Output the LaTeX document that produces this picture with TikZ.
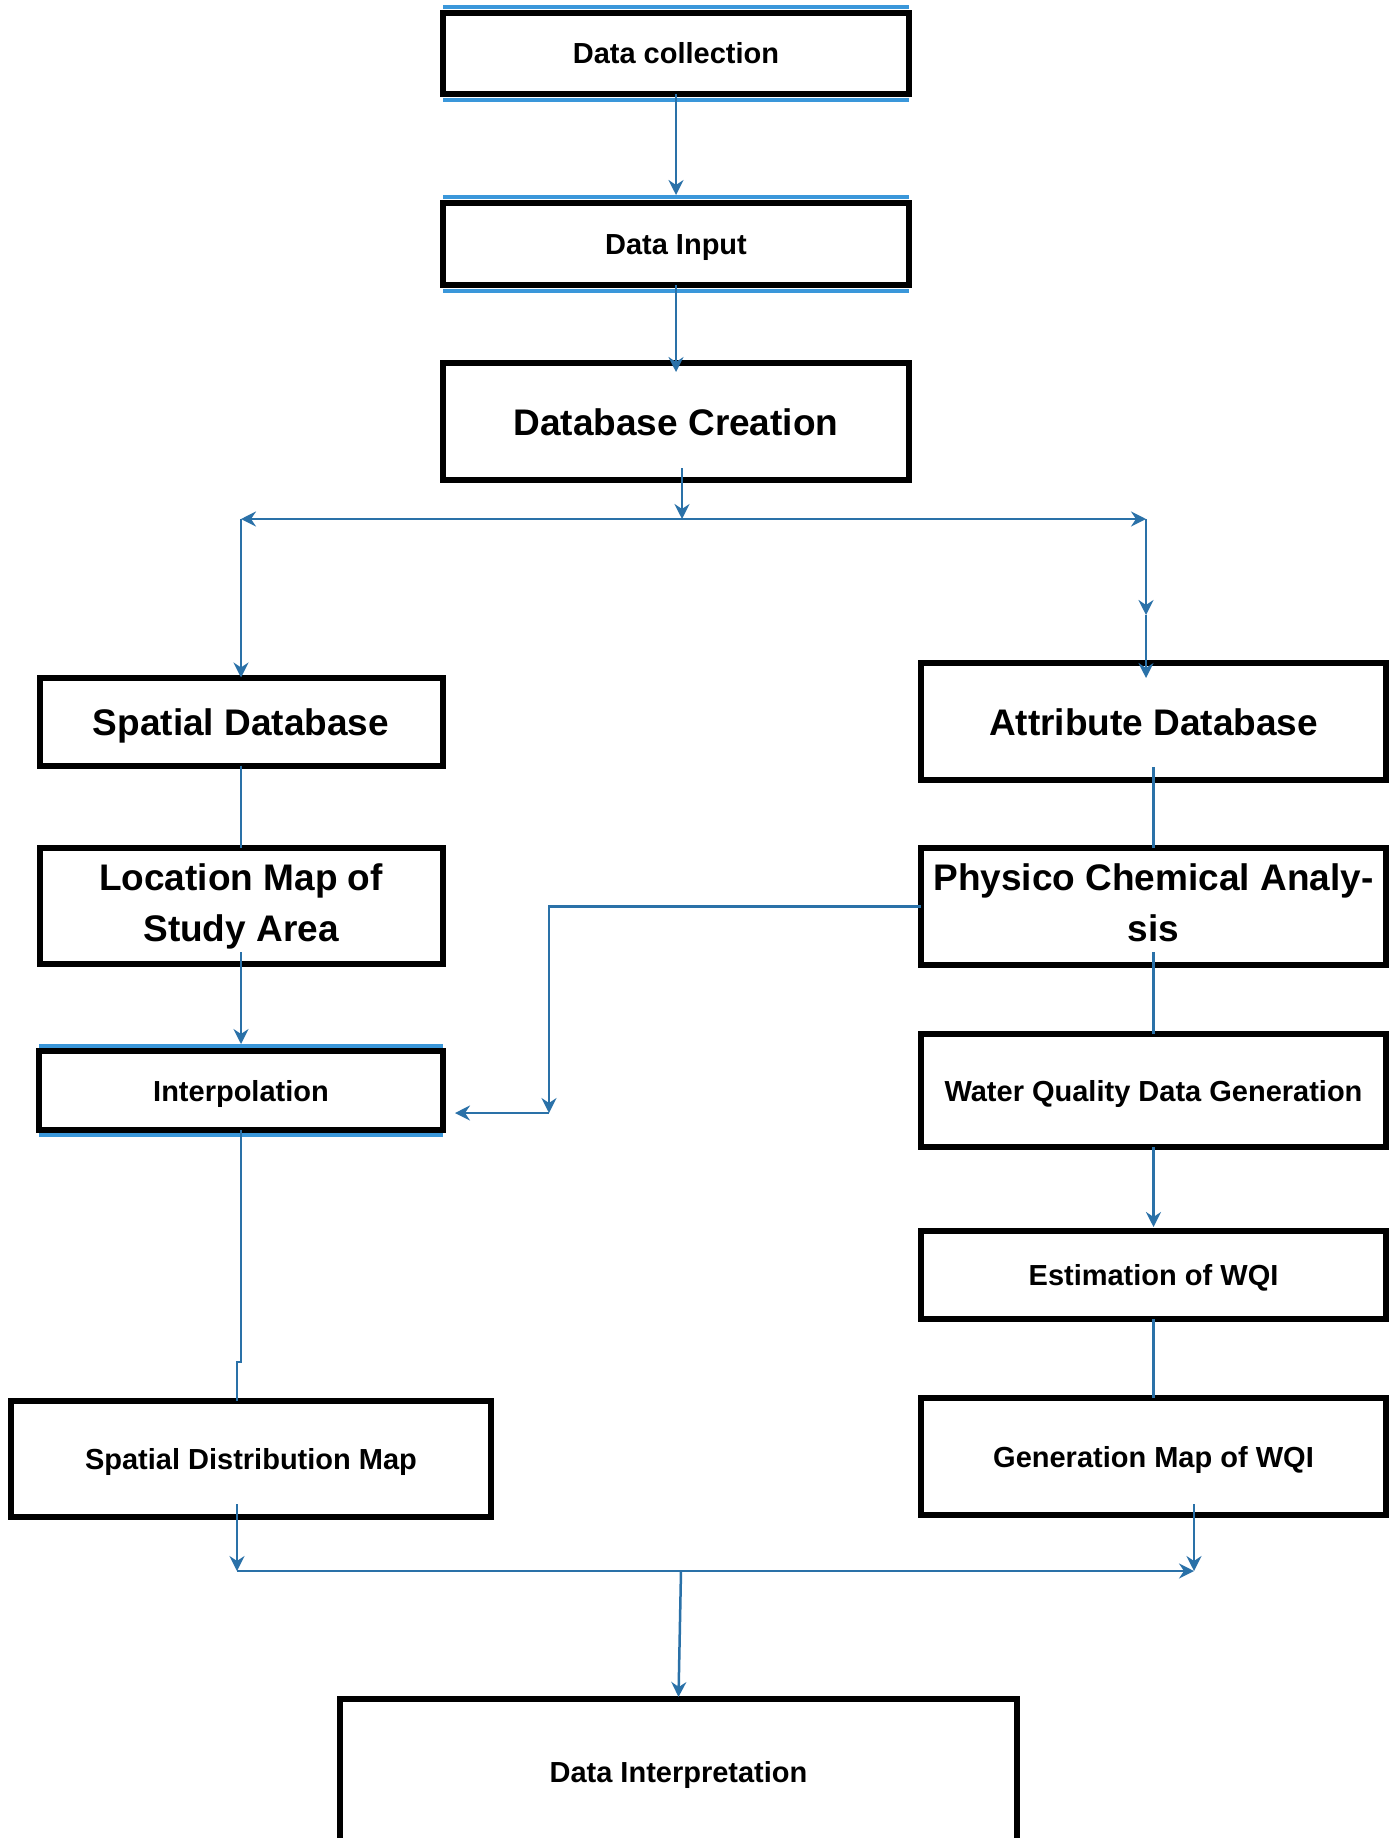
\documentclass[tikz,border=0pt]{standalone}
\usepackage{fontspec}
\setmainfont{Liberation Sans}
\usetikzlibrary{arrows.meta,calc}
\definecolor{cblue}{RGB}{42,113,168}
\definecolor{eblue}{RGB}{58,151,218}
\tikzset{
  box/.style={draw=black, line width=6pt, rectangle, inner sep=0pt, outer sep=0pt, align=center, text=black},
  smalltxt/.style={font=\fontsize{29}{35}\selectfont\bfseries},
  bigtxt/.style={font=\fontsize{37}{51}\selectfont\bfseries},
  smallone/.style={smalltxt, text height=21pt, text depth=0pt},
  bigone/.style={bigtxt, text height=27pt, text depth=0pt},
  conn/.style={draw=cblue, line width=2.5pt},
  edgeline/.style={draw=eblue, line width=3.5pt},
  arr/.style={-{Stealth[length=15pt,width=15pt,inset=5pt]}},
  darr/.style={{Stealth[length=15pt,width=15pt,inset=5pt]}-{Stealth[length=15pt,width=15pt,inset=5pt]}}
}
\begin{document}
\begin{tikzpicture}[x=1pt,y=-1pt]
\useasboundingbox (0,0) rectangle (1397,1838);
\clip (0,0) rectangle (1397,1838);
\fill[white] (0,0) rectangle (1397,1838);

% boxes
\node[box,smallone,minimum width=466pt,minimum height=81pt] (dc) at (676,53.5) {Data collection};
\node[box,smallone,minimum width=466pt,minimum height=82pt] (di) at (676,244) {Data Input};
\node[box,bigone,minimum width=466pt,minimum height=117pt] (dbc) at (676,421.5) {Database Creation};
\node[box,bigone,minimum width=403pt,minimum height=88pt] (sdb) at (241,721.5) {Spatial Database};
\node[box,bigone,minimum width=465pt,minimum height=117pt] (adb) at (1153.5,721.5) {Attribute Database};
\node[box,bigtxt,minimum width=403pt,minimum height=116pt] (loc) at (241,906) {Location Map of\\Study Area};
\node[box,bigtxt,minimum width=465pt,minimum height=117pt] (pca) at (1153.5,906.5) {Physico Chemical Analy-\\sis\vphantom{y}};
\node[box,smallone,minimum width=404pt,minimum height=79pt] (int) at (241,1090.5) {Interpolation};
\node[box,smallone,minimum width=465pt,minimum height=113pt] (wq) at (1153.5,1090.5) {Water Quality Data Generation};
\node[box,smallone,minimum width=465pt,minimum height=88pt] (est) at (1153.5,1275) {Estimation of WQI};
\node[box,smallone,minimum width=465pt,minimum height=117pt] (gen) at (1153.5,1456.5) {Generation Map of WQI};
\node[box,smallone,minimum width=480pt,minimum height=116pt] (sdm) at (251,1459) {Spatial Distribution Map};
\node[box,smallone,minimum width=677pt,minimum height=146pt] (dint) at (678.5,1772) {Data Interpretation};

% blue edge lines
\draw[edgeline] ($(dc.north west)+(0,-6)$) -- ($(dc.north east)+(0,-6)$);
\draw[edgeline] ($(dc.south west)+(0,6)$) -- ($(dc.south east)+(0,6)$);
\draw[edgeline] ($(di.north west)+(0,-6)$) -- ($(di.north east)+(0,-6)$);
\draw[edgeline] ($(di.south west)+(0,6)$) -- ($(di.south east)+(0,6)$);
\draw[edgeline] ($(int.north west)+(0,-5)$) -- ($(int.north east)+(0,-5)$);
\draw[edgeline] ($(int.south west)+(0,5)$) -- ($(int.south east)+(0,5)$);

% coordinates
\coordinate (hsplit) at (682,519);
\coordinate (hl) at (241,519);
\coordinate (hr) at (1146,519);
\coordinate (rmid) at (1146,615);
\coordinate (bend) at (549,906.5);
\coordinate (bend2) at (549,1113);
\coordinate (bl) at (237,1571);
\coordinate (br) at (1194,1571);
\coordinate (bmid) at (681,1571);

% connectors
\draw[conn,arr] (dc.south) -- ($(di.north)+(0,-8)$);
\draw[conn,arr] (di.south) -- ($(dbc.north)+(0,9)$);
\draw[conn,arr] ($(dbc.south)+(6,-12)$) -- (hsplit);
\draw[conn,darr] (hl) -- (hr);
\draw[conn,arr] (hl) -- (sdb.north);
\draw[conn,arr] (hr) -- (rmid);
\draw[conn,arr] (rmid) -- ($(hr |- adb.north)+(0,15)$);
\draw[conn] (sdb.south) -- (loc.north);
\draw[conn,arr] ($(loc.south)+(0,-12)$) -- ($(int.north)+(0,-7)$);
\draw[conn] ($(adb.south)+(0,-13)$) -- (pca.north);
\draw[conn,arr] (pca.west) -- (bend) -- (bend2);
\draw[conn,arr] (bend2) -- ($(int.east)+(12,22.5)$);
\draw[conn] ($(pca.south)+(0,-13)$) -- (wq.north);
\draw[conn,arr] (wq.south) -- ($(est.north)+(0,-4)$);
\draw[conn] (est.south) -- (gen.north);
\draw[conn] (int.south) -- ++(0,232) -| ($(sdm.north)+(-14,0)$);
\draw[conn,arr] ($(sdm.south)+(-14,-13)$) -- (bl);
\draw[conn,arr] ($(gen.south)+(40.5,-11)$) -- (br);
\draw[conn,arr] (bl) -- (br);
\draw[conn,arr] (bmid) -- ($(dint.north)+(0,-2)$);
\end{tikzpicture}
\end{document}
